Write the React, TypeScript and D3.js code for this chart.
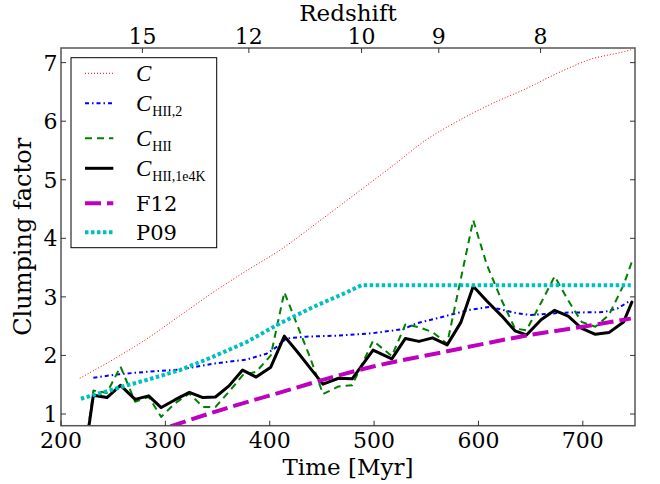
import React from 'react';
import * as d3 from 'd3';

// Snapshot times (Myr) shared by C_HII and C_HII,1e4K
const snapTimes = [218, 231, 244, 257, 271, 284, 296, 309, 323, 336, 348, 361, 374, 387, 401, 414, 427, 439, 451, 466, 479, 499, 517, 530, 543, 556, 570, 583, 595, 608, 622, 635, 646, 660, 673, 686, 699, 712, 725, 739, 747];
const cHII1e4K = [-0.3, 1.32, 1.28, 1.49, 1.25, 1.31, 1.11, 1.24, 1.37, 1.28, 1.29, 1.48, 1.75, 1.63, 1.80, 2.33, 2.05, 1.78, 1.51, 1.61, 1.60, 2.09, 1.94, 2.29, 2.24, 2.30, 2.18, 2.56, 3.18, 2.93, 2.68, 2.42, 2.35, 2.61, 2.77, 2.67, 2.46, 2.36, 2.39, 2.57, 2.91];
const cHII = [-0.3, 1.40, 1.36, 1.81, 1.21, 1.29, 0.95, 1.18, 1.35, 1.12, 1.12, 1.38, 1.66, 1.72, 2.00, 3.08, 2.49, 1.95, 1.34, 1.47, 1.49, 2.25, 1.99, 2.53, 2.48, 2.40, 2.20, 3.30, 4.31, 3.55, 2.95, 2.46, 2.43, 2.90, 3.35, 2.94, 2.57, 2.49, 2.69, 3.20, 3.60];

const cHII2Times = [231, 256, 282, 314, 346, 378, 397, 407, 416, 435, 467, 499, 528, 541, 557, 592, 611, 637, 650, 681, 720, 733, 746];
const cHII2 = [1.62, 1.68, 1.72, 1.76, 1.86, 1.93, 2.03, 2.15, 2.29, 2.32, 2.34, 2.38, 2.45, 2.55, 2.62, 2.78, 2.83, 2.72, 2.69, 2.73, 2.74, 2.80, 2.94];

const cTimes = [218, 250, 282, 314, 346, 378, 410, 448, 486, 518, 549, 581, 613, 645, 677, 708, 740, 746];
const cAll = [1.61, 1.93, 2.28, 2.68, 3.08, 3.45, 3.80, 4.30, 4.81, 5.24, 5.67, 6.01, 6.30, 6.55, 6.83, 7.06, 7.19, 7.22];

const f12Times = [285, 307, 359, 420, 460, 499, 570, 600, 640, 700, 746];
const f12 = [0.66, 0.80, 1.10, 1.42, 1.63, 1.81, 2.07, 2.18, 2.32, 2.49, 2.63];

const p09Times = [219, 250, 263, 282, 314, 346, 378, 410, 442, 474, 488, 746];
const p09 = [1.26, 1.42, 1.49, 1.58, 1.75, 1.98, 2.23, 2.55, 2.83, 3.08, 3.20, 3.20];

const timeTicks = [200, 300, 400, 500, 600, 700];
const valueTicks = [1, 2, 3, 4, 5, 6, 7];
const redshiftLabels = ['15', '12', '10', '9', '8'];
const redshiftTimes = [278, 380, 488, 562, 659.5];

const W = 660, H = 484;
const L = 61, R = 635, T = 48, B = 425.7;

export default function App() {
  const x = d3.scaleLinear().domain([200, 750]).range([L, R]);
  const y = d3.scaleLinear().domain([0.8, 7.25]).range([B, T]);

  const mk = (ts: number[], vs: number[], curve?: any) => {
    const g = d3.line<number>().x((_, i) => x(ts[i])).y((v) => y(v));
    if (curve) g.curve(curve);
    return g(vs) || '';
  };

  const series = [
    { key: 'C', d: mk(cTimes, cAll, d3.curveMonotoneX), stroke: '#ff0000', w: 1, dash: '1,2' },
    { key: 'C2', d: mk(cHII2Times, cHII2), stroke: '#0000ff', w: 2, dash: '4,3,1.5,3' },
    { key: 'CH', d: mk(snapTimes, cHII), stroke: '#008000', w: 2, dash: '7,5' },
    { key: 'C4', d: mk(snapTimes, cHII1e4K), stroke: '#000000', w: 3, dash: undefined },
    { key: 'F', d: mk(f12Times, f12, d3.curveMonotoneX), stroke: '#bf00bf', w: 4, dash: '16,6' },
    { key: 'P', d: mk(p09Times, p09), stroke: '#00bfbf', w: 4, dash: '3.5,2.5' },
  ];

  const legendRows = [73.3, 103.3, 138.3, 168.3, 203.3, 232.3];
  const legendSubs = ['', 'HII,2', 'HII', 'HII,1e4K'];
  const serif = "'DejaVu Serif', 'Liberation Serif', serif";
  const mathFont = "'Liberation Serif', serif";

  return (
    <svg width={W} height={H} style={{ position: 'absolute', left: 0, top: 0, background: '#fff' }}>
      <defs>
        <clipPath id="plot">
          <rect x={L} y={T} width={R - L} height={B - T} />
        </clipPath>
      </defs>
      <rect x={0} y={0} width={W} height={H} fill="#fff" />
      <g clipPath="url(#plot)">
        {series.map((s) => (
          <path key={s.key} d={s.d} fill="none" stroke={s.stroke} strokeWidth={s.w}
            strokeDasharray={s.dash} strokeLinejoin="round" strokeLinecap={s.dash ? 'butt' : 'round'} />
        ))}
      </g>
      {/* frame */}
      <rect x={L} y={T} width={R - L} height={B - T} fill="none" stroke="#555" strokeWidth={1.5} />
      {/* bottom ticks */}
      {timeTicks.map((t) => (
        <g key={'bt' + t}>
          <line x1={x(t)} x2={x(t)} y1={B} y2={B - 5} stroke="#333" strokeWidth={1} />
          <text x={x(t)} y={447.5} textAnchor="middle" fontFamily={serif} fontSize={22}>{t}</text>
        </g>
      ))}
      {/* y ticks */}
      {valueTicks.map((v) => (
        <g key={'yt' + v}>
          <line x1={L} x2={L + 5} y1={y(v)} y2={y(v)} stroke="#333" strokeWidth={1} />
          <line x1={R} x2={R - 5} y1={y(v)} y2={y(v)} stroke="#333" strokeWidth={1} />
          <text x={57.5} y={y(v)} dy="0.36em" textAnchor="end" fontFamily={serif} fontSize={22}>{v}</text>
        </g>
      ))}
      {/* redshift ticks */}
      {redshiftLabels.map((lab, i) => (
        <g key={'z' + lab}>
          <line x1={x(redshiftTimes[i])} x2={x(redshiftTimes[i])} y1={T} y2={T + 5} stroke="#333" strokeWidth={1} />
          <text x={x(redshiftTimes[i])} y={44} textAnchor="middle" fontFamily={serif} fontSize={22}>{lab}</text>
        </g>
      ))}
      <text x={(L + R) / 2} y={20.5} textAnchor="middle" fontFamily={serif} fontSize={23}>Redshift</text>
      <text x={(L + R) / 2} y={474.5} textAnchor="middle" fontFamily={serif} fontSize={23}>Time [Myr]</text>
      <text transform={`translate(31,${(T + B) / 2}) rotate(-90)`} textAnchor="middle" fontFamily={serif} fontSize={24}>Clumping factor</text>
      {/* legend */}
      <rect x={71} y={57.7} width={145.7} height={190} fill="#fff" stroke="#000" strokeWidth={1} />
      {series.map((s, i) => (
        <line key={'lg' + s.key} x1={85} x2={113.3} y1={legendRows[i]} y2={legendRows[i]} stroke={s.stroke}
          strokeWidth={s.w} strokeDasharray={s.dash} strokeLinecap="butt" />
      ))}
      {legendSubs.map((sub, i) => (
        <text key={'lt' + i} x={136} y={legendRows[i] + 8} fontFamily={mathFont} fontSize={23}>
          <tspan fontStyle="italic">C</tspan>
          {sub ? <tspan dx={1} dy={5} fontSize={14}>{sub}</tspan> : null}
        </text>
      ))}
      <text x={136} y={legendRows[4] + 7.5} fontFamily={serif} fontSize={21}>F12</text>
      <text x={136} y={legendRows[5] + 7.5} fontFamily={serif} fontSize={21}>P09</text>
    </svg>
  );
}
